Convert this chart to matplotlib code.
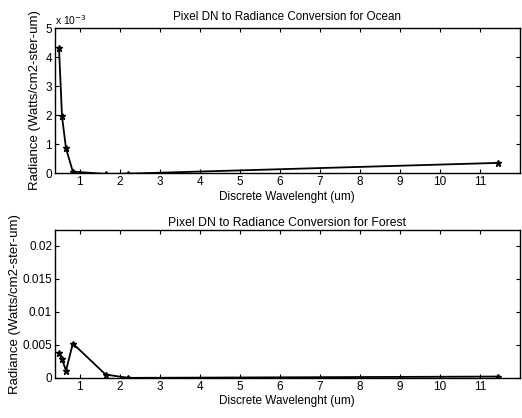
import numpy as np
import matplotlib
import matplotlib.pyplot as plt

matplotlib.rcParams.update({
    "font.family": ["Liberation Sans", "DejaVu Sans"],
    "font.size": 8.5,
    "xtick.direction": "in",
    "ytick.direction": "in",
    "xtick.top": True,
    "ytick.right": True,
    "xtick.major.size": 3,
    "ytick.major.size": 3,
})

# Landsat TM band centres (um), plotted in band order
wavelength = [0.485, 0.56, 0.66, 0.83, 1.65, 2.215, 11.45]
ocean_radiance = [4.3e-3, 1.95e-3, 0.85e-3, 0.05e-3, -0.03e-3, -0.02e-3, 0.35e-3]
forest_radiance = [0.0037, 0.0028, 0.0011, 0.0052, 0.0005, 0.0, 0.0002]

ocean_ticks = [0, 1, 2, 3, 4, 5]
forest_ticks = [0, 0.005, 0.01, 0.015, 0.02]
forest_ticklabels = ["0", "0.005", "0.01", "0.015", "0.02"]
x_ticks = list(range(1, 12))

fig = plt.figure(figsize=(5.22, 4.18), dpi=100)
ax1 = fig.add_axes([0.105, 0.586, 0.891, 0.347])
ax2 = fig.add_axes([0.105, 0.096, 0.891, 0.354])

# ---- Ocean ----
ax1.plot(wavelength, np.array(ocean_radiance) / 1e-3, color="black",
         linewidth=1.3, marker="*", markersize=5)
ax1.set_xlim(0.38, 12)
ax1.set_ylim(0, 5)
ax1.set_yticks(ocean_ticks)
ax1.set_xticks(x_ticks)
ax1.text(0.0, 1.01, r"x 10$^{-3}$", transform=ax1.transAxes,
         ha="left", va="bottom", fontsize=7.5)
ax1.set_title("Pixel DN to Radiance Conversion for Ocean", pad=6, fontsize=8.4)
ax1.set_xlabel("Discrete Wavelenght (um)", labelpad=2)
ax1.set_ylabel("Radiance (Watts/cm2-ster-um)", labelpad=3, fontsize=9.5)

# ---- Forest ----
ax2.plot(wavelength, forest_radiance, color="black",
         linewidth=1.3, marker="*", markersize=5)
ax2.set_xlim(0.38, 12)
ax2.set_ylim(0, 0.0224)
ax2.set_yticks(forest_ticks)
ax2.set_yticklabels(forest_ticklabels)
ax2.set_xticks(x_ticks)
ax2.set_title("Pixel DN to Radiance Conversion for Forest", pad=3, fontsize=8.8)
ax2.set_xlabel("Discrete Wavelenght (um)", labelpad=2)
ax2.set_ylabel("Radiance (Watts/cm2-ster-um)", labelpad=1, fontsize=9.5)

for ax in (ax1, ax2):
    for s in ax.spines.values():
        s.set_linewidth(1.0)
    ax.tick_params(pad=2, labelsize=8.5)

fig.savefig("out.png", dpi=100)
